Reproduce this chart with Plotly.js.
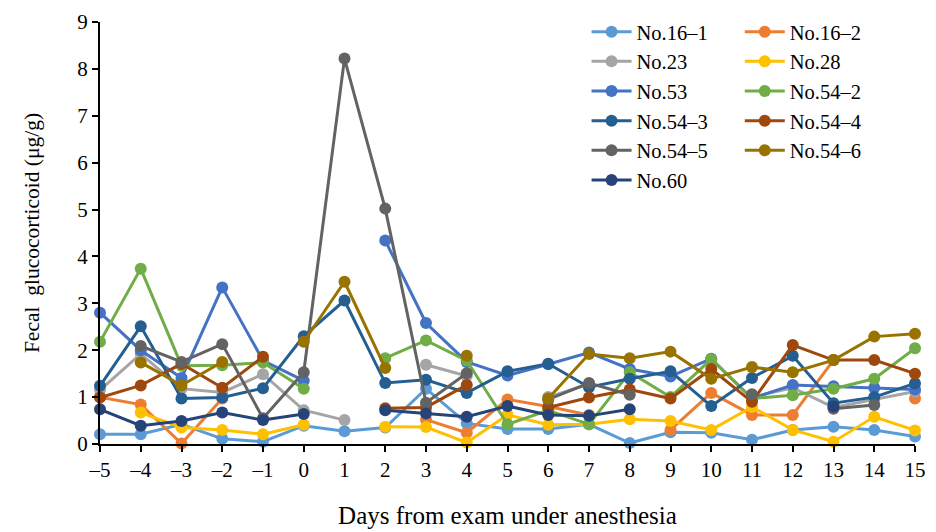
<!DOCTYPE html>
<html>
<head>
<meta charset="utf-8">
<script src="https://cdn.plot.ly/plotly-3.0.1.min.js"></script>
<style>html,body{margin:0;padding:0;background:#fff;}#chart{width:936px;height:532px;}</style>
</head>
<body>
<div id="chart"></div>
<script>
const days = [-5,-4,-3,-2,-1,0,1,2,3,4,5,6,7,8,9,10,11,12,13,14,15];
const xTickLabels = ['–5','–4','–3','–2','–1','0','1','2','3','4','5','6','7','8','9','10','11','12','13','14','15'];
const yTickVals = [0,1,2,3,4,5,6,7,8,9];

const seriesNames = ['No.16–1','No.16–2','No.23','No.28','No.53','No.54–2','No.54–3','No.54–4','No.54–5','No.54–6','No.60'];
const seriesColors = ['#5B9BD5','#ED7D31','#A5A5A5','#FFC000','#4472C4','#70AD47','#255E91','#9E480E','#636363','#997300','#264478'];
const seriesLegend = ['legend','legend2','legend','legend2','legend','legend2','legend','legend2','legend','legend2','legend'];

const no16_1 = [0.21,0.21,0.42,0.11,0.05,0.39,0.27,0.35,1.18,0.44,0.32,0.32,0.42,0.02,0.25,0.24,0.09,0.30,0.37,0.30,0.16];
const no16_2 = [1.00,0.84,0.01,0.97,null,null,null,null,0.52,0.24,0.95,0.80,0.62,null,0.30,1.09,0.62,0.62,1.79,null,0.97];
const no23   = [1.15,1.92,1.18,1.10,1.49,0.72,0.51,null,1.69,1.45,null,1.00,1.28,null,null,null,1.00,1.20,0.78,0.95,1.12];
const no28   = [null,0.67,0.35,0.30,0.21,0.41,null,0.37,0.36,0.03,0.62,0.41,0.42,0.53,0.49,0.30,0.79,0.30,0.05,0.58,0.29];
const no53   = [2.80,2.00,1.41,3.34,1.78,1.35,null,4.34,2.58,1.75,1.46,1.70,1.95,1.60,1.44,1.82,0.97,1.26,1.23,1.20,1.16];
const no54_2 = [2.18,3.74,1.67,1.68,1.74,1.18,null,1.83,2.21,1.78,0.42,0.72,0.42,1.53,1.00,1.81,0.97,1.04,1.18,1.39,2.04];
const no54_3 = [1.24,2.51,0.97,0.99,1.19,2.30,3.06,1.30,1.37,1.09,1.55,1.71,1.21,1.39,1.55,0.81,1.41,1.88,0.87,1.00,1.29];
const no54_4 = [0.99,1.25,1.71,1.20,1.86,null,null,0.76,0.78,1.26,null,0.78,0.99,1.16,0.97,1.60,0.90,2.11,1.79,1.79,1.50];
const no54_5 = [null,2.09,1.75,2.13,0.55,1.53,8.22,5.02,0.88,1.51,null,0.95,1.30,1.05,null,null,1.06,null,0.75,0.83,null];
const no54_6 = [null,1.74,1.25,1.75,null,2.18,3.46,1.62,null,1.88,null,0.97,1.92,1.83,1.97,1.39,1.64,1.53,1.79,2.29,2.35];
const no60   = [0.74,0.39,0.49,0.67,0.51,0.64,null,0.72,0.65,0.58,0.81,0.62,0.60,0.74,null,null,null,null,0.80,null,null];

const seriesValues = [no16_1,no16_2,no23,no28,no53,no54_2,no54_3,no54_4,no54_5,no54_6,no60];

const FONT = 'Liberation Serif, Times New Roman, serif';

const traces = seriesValues.map((vals, i) => ({
  type: 'scatter',
  mode: 'lines+markers',
  x: days,
  y: vals,
  name: seriesNames[i],
  legend: seriesLegend[i],
  line: {color: seriesColors[i], width: 3},
  marker: {color: seriesColors[i], size: 12},
  connectgaps: false,
  cliponaxis: false
}));

const layout = {
  width: 936,
  height: 532,
  margin: {l: 100, r: 21, t: 17, b: 88},
  paper_bgcolor: '#fff',
  plot_bgcolor: '#fff',
  font: {family: FONT, size: 21, color: '#000'},
  showlegend: true,
  xaxis: {
    range: [-5, 15],
    tickmode: 'array',
    tickvals: days,
    ticktext: xTickLabels,
    showgrid: false,
    zeroline: false,
    showline: true,
    linecolor: '#000',
    linewidth: 2,
    ticks: 'outside',
    ticklen: 6,
    tickwidth: 2,
    tickcolor: '#000',
    tickfont: {family: FONT, size: 21, color: '#000'},
    title: {text: 'Days from exam under anesthesia', font: {family: FONT, size: 25, color: '#000'}, standoff: 25}
  },
  yaxis: {
    range: [0, 9],
    tickmode: 'array',
    tickvals: yTickVals,
    showgrid: false,
    zeroline: false,
    showline: true,
    linecolor: '#000',
    linewidth: 2,
    ticks: 'outside',
    ticklen: 6,
    tickwidth: 2,
    tickcolor: '#000',
    tickfont: {family: FONT, size: 21, color: '#000'},
    title: {text: 'Fecal  glucocorticoid (μg/g)', font: {family: FONT, size: 21.5, color: '#000'}, standoff: 32}
  },
  legend: {
    x: 0.597, y: 1.024, xanchor: 'left', yanchor: 'top',
    bgcolor: 'rgba(255,255,255,0)',
    font: {family: FONT, size: 20.5, color: '#000'},
    tracegroupgap: 0, itemwidth: 40
  },
  legend2: {
    x: 0.785, y: 1.024, xanchor: 'left', yanchor: 'top',
    bgcolor: 'rgba(255,255,255,0)',
    font: {family: FONT, size: 20.5, color: '#000'},
    tracegroupgap: 0, itemwidth: 40
  }
};

Plotly.newPlot('chart', traces, layout, {displayModeBar: false, staticPlot: true});
</script>
</body>
</html>
